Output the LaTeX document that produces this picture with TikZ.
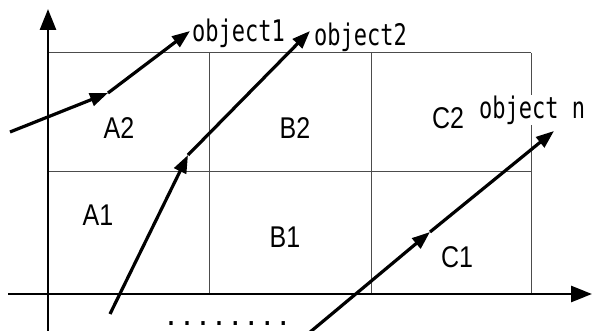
\documentclass[tikz,border=0pt]{standalone}
\usepackage{fontspec}
\usepackage{graphicx}
\setmainfont{Liberation Sans}
\newfontfamily\objfont{DejaVu Sans Mono}
\usetikzlibrary{arrows.meta}
\tikzset{
  grid line/.style={draw=black!70, line width=1pt},
  axis/.style={line width=2.6pt, -{Triangle[length=21pt, width=16pt]}},
  motion/.style={line width=3.2pt, -{Triangle[length=18pt, width=13pt]}},
  cell/.style={font=\fontsize{25}{25}\selectfont, inner sep=0pt},
  objlabel/.style={font=\objfont\fontsize{22}{22}\selectfont, anchor=west, inner sep=1pt}
}
\newcommand{\tallish}[1]{\scalebox{1}[1.2]{#1}}
\newcommand{\tallobj}[1]{\scalebox{1}[1.35]{#1}}
\begin{document}
\begin{tikzpicture}[x=1pt, y=-1pt]
\useasboundingbox (0,0) rectangle (592,331);
\fill[white] (0,0) rectangle (592,331);
% grid
\coordinate (g00) at (48,53);
\coordinate (g30) at (531,53);
\coordinate (g01) at (48,172);
\coordinate (g31) at (531,172);
\coordinate (g10) at (209,53);
\coordinate (g12) at (209,294);
\coordinate (g20) at (371,53);
\coordinate (g22) at (371,294);
\coordinate (g32) at (531,294);
\draw[grid line] (g00) -- (g30);
\draw[grid line] (g01) -- (g31);
\draw[grid line] (g10) -- (g12);
\draw[grid line] (g20) -- (g22);
\draw[grid line] (g30) -- (g32);
% axes
\coordinate (yb) at (48,331);
\coordinate (yt) at (48,9);
\coordinate (xl) at (8,294);
\coordinate (xr) at (592,294);
\draw[axis] (yb) -- (yt);
\draw[axis] (xl) -- (xr);
% cell labels
\node[cell] (A2) at (119,128) {\tallish{A2}};
\node[cell] (B2) at (295,128) {\tallish{B2}};
\node[cell] (C2) at (448,118) {\tallish{C2}};
\node[cell] (A1) at (98,215) {\tallish{A1}};
\node[cell] (B1) at (285,237) {\tallish{B1}};
\node[cell] (C1) at (457,257) {\tallish{C1}};
% object labels
\node[objlabel] (o1) at (191,33) {\tallobj{object1}};
\node[objlabel] (o2) at (313,37) {\tallobj{object2}};
\node[objlabel, fill=white] (on) at (478,110) {\tallobj{object n}};
% object 1 path
\coordinate (s1) at (10,132);
\coordinate (k1) at (108,93);
\coordinate (e1) at (190,31);
\draw[motion] (s1) -- (k1);
\draw[motion] (k1) -- (e1);
% object 2 path
\coordinate (s2) at (110,314);
\coordinate (k2) at (188,155);
\coordinate (e2) at (310,31);
\draw[motion] (s2) -- (k2);
\draw[motion] (k2) -- (e2);
% object n path
\coordinate (s3) at (309,333);
\coordinate (k3) at (430,232);
\coordinate (e3) at (554,131);
\draw[motion] (s3) -- (k3);
\draw[motion] (k3) -- (e3);
% dots
\node[font=\objfont\fontsize{26.6}{26.6}\selectfont, inner sep=0pt, anchor=base west] (dots) at (163,325) {........};
\end{tikzpicture}
\end{document}
